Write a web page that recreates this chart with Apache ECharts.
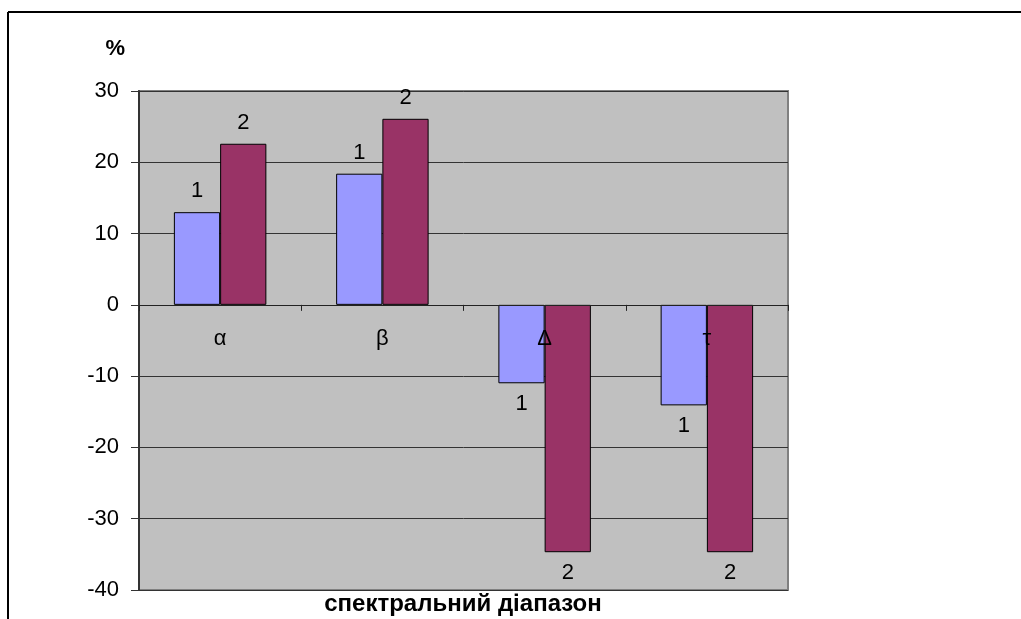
<!DOCTYPE html>
<html>
<head>
<meta charset="utf-8">
<style>
  html, body { margin: 0; padding: 0; background: #ffffff; }
  #chart { width: 1021px; height: 619px; }
</style>
<script src="https://cdn.jsdelivr.net/npm/echarts@6/dist/echarts.min.js"></script>
</head>
<body>
<div id="chart"></div>
<script>
// Spectral bands and the relative change (%) for the two series
const bands = ['α', 'β', 'Δ', 'τ'];
const series1 = [13, 18.4, -11, -14.1];
const series2 = [22.6, 26.1, -34.7, -34.7];
const seriesNames = ['1', '2'];
const yTicks = { min: -40, max: 30, step: 10 };
const axisTitleX = 'спектральний діапазон';
const axisTitleY = '%';

const FONT = 'Liberation Sans, Arial, sans-serif';

// Plot box inside the 1021x619 canvas
const GRID = { left: 139, right: 233, top: 91, bottom: 29 };
const plotHeight = 619 - GRID.top - GRID.bottom;
// The category axis runs along the zero line of the value axis
const zeroOffset = -plotHeight * (0 - yTicks.min) / (yTicks.max - yTicks.min);

// Labels sit above positive bars and below negative ones
function withLabels(values) {
  return values.map(v => ({
    value: v,
    label: { position: v >= 0 ? 'top' : 'bottom' }
  }));
}

function barSeries(name, values, color) {
  return {
    name: name,
    type: 'bar',
    data: withLabels(values),
    barGap: '0%',
    barCategoryGap: '43%',
    itemStyle: { color: color, borderColor: '#000000', borderWidth: 1 },
    label: {
      show: true,
      formatter: () => name,
      distance: 10,
      color: '#000000',
      fontFamily: FONT,
      fontSize: 22
    },
    emphasis: { disabled: true },
    animation: false
  };
}

const chart = echarts.init(document.getElementById('chart'), null, { renderer: 'canvas' });

chart.setOption({
  backgroundColor: '#ffffff',
  animation: false,
  title: {
    text: axisTitleX,
    left: 463,
    top: 592,
    textAlign: 'center',
    padding: 0,
    textStyle: { color: '#000000', fontFamily: FONT, fontSize: 24, fontWeight: 'bold' }
  },
  grid: {
    left: GRID.left, right: GRID.right, top: GRID.top, bottom: GRID.bottom,
    outerBoundsMode: 'none',
    containLabel: false,
    show: true,
    backgroundColor: '#c0c0c0',
    borderColor: '#808080',
    borderWidth: 2
  },
  graphic: [
    // outer chart frame (left and top edges)
    { type: 'line', shape: { x1: 8, y1: 12, x2: 1030, y2: 12 }, style: { stroke: '#000000', lineWidth: 2 }, silent: true },
    { type: 'line', shape: { x1: 8, y1: 12, x2: 8, y2: 630 }, style: { stroke: '#000000', lineWidth: 2 }, silent: true }
  ],
  xAxis: {
    type: 'category',
    data: bands,
    position: 'bottom',
    offset: zeroOffset,
    z: 5,
    axisLine: { show: true, onZero: false, lineStyle: { color: '#222222', width: 1 } },
    axisTick: { show: true, length: 6, inside: false, lineStyle: { color: '#222222' } },
    axisLabel: { margin: 23, color: '#000000', fontFamily: FONT, fontSize: 22 },
    splitLine: { show: false }
  },
  yAxis: {
    type: 'value',
    min: yTicks.min,
    max: yTicks.max,
    interval: yTicks.step,
    name: axisTitleY,
    nameLocation: 'end',
    nameGap: 31,
    nameTextStyle: { color: '#000000', fontFamily: FONT, fontSize: 22, fontWeight: 'bold', align: 'right', padding: [0, 14, 0, 0] },
    axisLine: { show: true, lineStyle: { color: '#333333', width: 2 } },
    axisTick: { show: true, length: 8, lineStyle: { color: '#333333' } },
    axisLabel: { margin: 20, color: '#000000', fontFamily: FONT, fontSize: 22 },
    splitLine: { show: true, lineStyle: { color: '#333333', width: 1 } }
  },
  series: [
    barSeries(seriesNames[0], series1, '#9999ff'),
    barSeries(seriesNames[1], series2, '#993366')
  ]
});
</script>
</body>
</html>
